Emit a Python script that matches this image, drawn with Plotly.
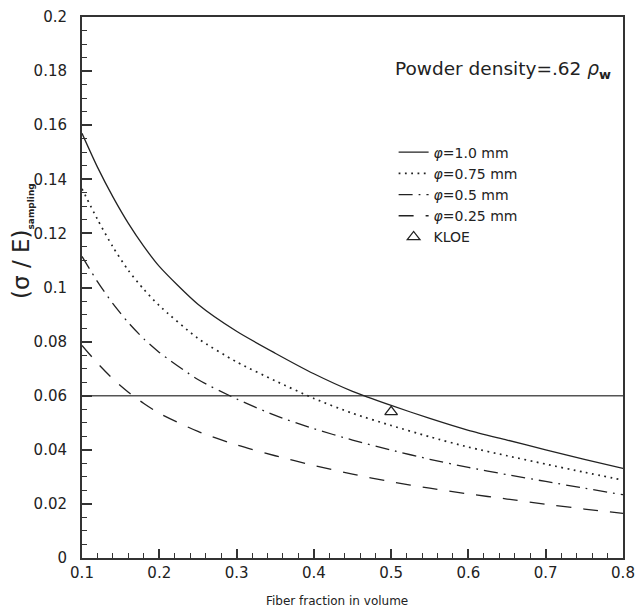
import plotly.graph_objects as go

# ---- data ----
fiber_fraction = [0.10, 0.12, 0.14, 0.16, 0.18, 0.20, 0.25, 0.30, 0.35, 0.40,
                  0.45, 0.50, 0.55, 0.60, 0.65, 0.70, 0.75, 0.80]
res_phi_1p0 = [0.157, 0.1445, 0.1335, 0.1237, 0.1152, 0.1078, 0.0938, 0.0838, 0.0757, 0.0681,
               0.0616, 0.0564, 0.0516, 0.0472, 0.0436, 0.0400, 0.0365, 0.0331]
res_phi_0p75 = [0.1365, 0.1252, 0.1150, 0.1063, 0.0993, 0.0933, 0.0812, 0.0725, 0.0655, 0.0590,
                0.0535, 0.0490, 0.0448, 0.0410, 0.0378, 0.0347, 0.0317, 0.0288]
res_phi_0p5 = [0.1115, 0.1022, 0.0940, 0.0870, 0.0810, 0.0760, 0.0660, 0.0588, 0.0527, 0.0478,
               0.0436, 0.0399, 0.0365, 0.0335, 0.0308, 0.0283, 0.0258, 0.0234]
res_phi_0p25 = [0.0786, 0.0720, 0.0662, 0.0613, 0.0571, 0.0535, 0.0468, 0.0418, 0.0378, 0.0342,
                0.0310, 0.0282, 0.0258, 0.0237, 0.0218, 0.0199, 0.0181, 0.0165]
kloe_x = [0.50]
kloe_y = [0.054]
reference_level = 0.06

x_ticks = [0.1, 0.2, 0.3, 0.4, 0.5, 0.6, 0.7, 0.8]
x_tick_labels = ["0.1", "0.2", "0.3", "0.4", "0.5", "0.6", "0.7", "0.8"]
y_ticks = [0, 0.02, 0.04, 0.06, 0.08, 0.1, 0.12, 0.14, 0.16, 0.18, 0.2]
y_tick_labels = ["0", "0.02", "0.04", "0.06", "0.08", "0.1", "0.12", "0.14", "0.16", "0.18", "0.2"]

FONT = "DejaVu Sans"
INK = "#222222"

fig = go.Figure()

series = [
    ("<i>φ</i>=1.0 mm", res_phi_1p0, "solid", 1.3),
    ("<i>φ</i>=0.75 mm", res_phi_0p75, "1.8px,4.5px", 1.7),
    ("<i>φ</i>=0.5 mm", res_phi_0p5, "14px,6px,1.8px,6px", 1.3),
    ("<i>φ</i>=0.25 mm", res_phi_0p25, "15px,12px", 1.3),
]
for name, ys, dash, w in series:
    fig.add_trace(go.Scatter(
        x=fiber_fraction, y=ys, mode="lines", name=name,
        line=dict(color=INK, width=w, dash=dash, shape="spline", smoothing=0.7),
    ))

fig.add_trace(go.Scatter(
    x=kloe_x, y=kloe_y, mode="markers", name="KLOE",
    marker=dict(symbol="triangle-up-open", size=11, color=INK, line=dict(width=1.3, color=INK)),
))

fig.add_shape(type="line", xref="paper", x0=0, x1=1, yref="y", y0=reference_level, y1=reference_level,
              line=dict(color="#555555", width=1.6), layer="below")

axis_common = dict(
    showgrid=False, zeroline=False, showline=True, linecolor="#333333", linewidth=2,
    mirror=True, ticks="inside", tickcolor="#333333", tickwidth=1.5, automargin=False,
    tickfont=dict(family=FONT, size=15, color=INK),
)

fig.update_xaxes(range=[0.1, 0.8], tickmode="array", tickvals=x_ticks, ticktext=x_tick_labels,
                 ticklen=9, minor=dict(ticks="inside", ticklen=5, dtick=0.02, tick0=0.1,
                                       tickcolor="#333333", tickwidth=1.2),
                 **axis_common)
fig.update_yaxes(range=[0, 0.2], tickmode="array", tickvals=y_ticks, ticktext=y_tick_labels,
                 ticklen=10, ticklabelstandoff=10,
                 minor=dict(ticks="inside", ticklen=5, dtick=0.005, tick0=0,
                            tickcolor="#333333", tickwidth=1.2),
                 **axis_common)

fig.add_annotation(xref="paper", yref="paper", x=0.471, y=-0.08, showarrow=False,
                   text="Fiber fraction in volume", font=dict(family=FONT, size=12, color=INK),
                   xanchor="center", yanchor="middle")
fig.add_annotation(xref="paper", yref="paper", x=-0.111, y=0.586, showarrow=False, textangle=-90,
                   text="(σ / E)<sub><b><span style='font-size:9px'>sampling</span></b></sub>",
                   font=dict(family=FONT, size=23, color=INK),
                   xanchor="center", yanchor="middle")
fig.add_annotation(xref="paper", yref="paper", x=0.779, y=0.902, showarrow=False,
                   text="Powder density=.62 <i>ρ</i><sub><b>w</b></sub>",
                   font=dict(family=FONT, size=18.5, color=INK),
                   xanchor="center", yanchor="middle")

fig.update_layout(
    width=636, height=609,
    margin=dict(l=82, r=13, t=17, b=51),
    paper_bgcolor="white", plot_bgcolor="white",
    showlegend=True,
    legend=dict(x=0.576, y=0.779, xanchor="left", yanchor="top",
                bgcolor="rgba(0,0,0,0)", borderwidth=0,
                font=dict(family=FONT, size=14, color=INK), itemwidth=30),
)

fig.write_html("out.html", config={"displayModeBar": False},
               post_script="document.body.style.margin='0';")
